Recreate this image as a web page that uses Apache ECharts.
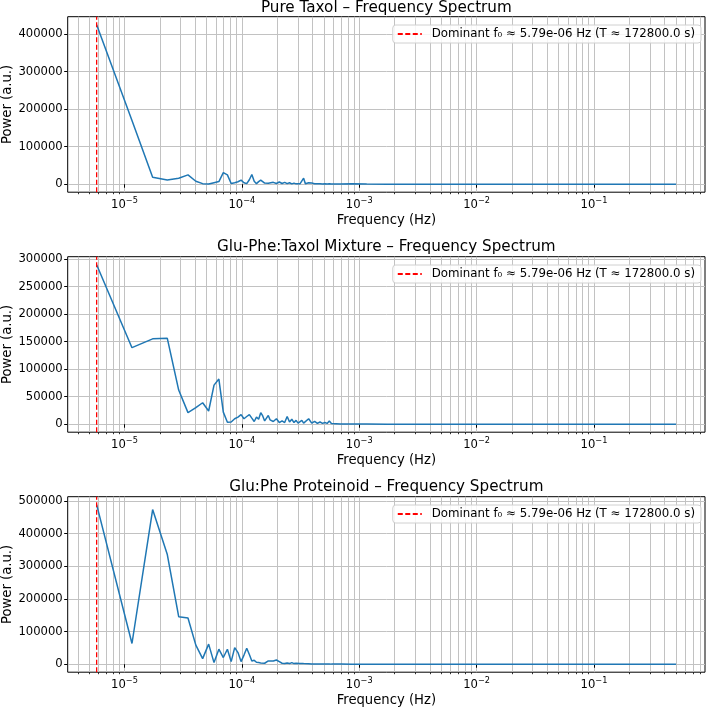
<!DOCTYPE html>
<html>
<head>
<meta charset="utf-8">
<script src="https://cdn.jsdelivr.net/npm/echarts@6/dist/echarts.min.js"></script>
<style>
  html, body { margin: 0; padding: 0; background: #fff; }
  #chart { width: 708px; height: 707px; }
</style>
</head>
<body>
<div id="chart"></div>
<script>
// record length in seconds: FFT bin k sits at k / samplePeriod Hz
const samplePeriod = 172800;
const dominantFreq = 1 / samplePeriod;

const bins = [
  1, 2, 3, 4, 5, 6, 7, 8, 9, 10, 11, 12, 13, 14, 15, 16, 17, 18, 19, 20,
  21, 22, 23, 24, 25, 26, 27, 28, 29, 30,
  32, 34, 36, 38, 40, 42, 44, 46, 48, 50, 52, 54, 56, 58, 60,
  64, 68, 72, 76, 80, 84, 88, 92, 96, 100, 104,
  120, 150, 200, 300, 500, 1000, 3000, 10000, 30000, 86400
];

const pureTaxol = [
  425000, 170000, 18700, 11500, 16000, 25000, 8000, 1500, 500, 4000,
  7000, 31000, 25000, 2000, 4000, 6500, 11000, 4000, 1500, 12000,
  26000, 8000, 1500, 7000, 11000, 9000, 3000, 1500, 2500, 1500,
  5000, 2000, 6000, 2000, 5000, 1500, 4000, 1000, 3000, 1000, 2500, 1000, 4000, 16000, 1500,
  4000, 3000, 1500, 1000, 1500, 800, 1000, 800, 1200, 600, 800,
  500, 1000, 400, 200, 100, 50, 20, 10, 5, 0
];

const mixture = [
  289700, 139000, 155000, 156000, 62000, 21000, 30000, 39000, 24000, 71000,
  82000, 22000, 3500, 4000, 10000, 13000, 17500, 10000, 14000, 17500,
  11000, 5000, 13000, 9000, 21000, 15000, 6000, 9000, 16000, 8000,
  5000, 10000, 3000, 6000, 3000, 14000, 4000, 9000, 3000, 7000, 2000, 5000, 7000, 2000, 4000,
  10000, 2000, 5000, 1500, 4000, 1500, 3000, 1500, 6000, 1500, 1000,
  500, 300, 200, 100, 50, 30, 10, 5, 2, 0
];

const proteinoid = [
  489000, 63500, 474000, 336000, 145700, 141700, 58500, 17200, 61600, 5000,
  46000, 20500, 46000, 8000, 51000, 35700, 8000, 28000, 49000, 30000,
  10000, 12000, 6000, 5000, 4000, 2000, 3000, 2000, 10000, 9000,
  10000, 13000, 8000, 3000, 2000, 4000, 2000, 5000, 2000, 3000, 1500, 2500, 1000, 2000, 1000,
  1500, 800, 1000, 600, 800, 500, 600, 400, 500, 300, 400,
  300, 200, 100, 60, 30, 20, 10, 5, 2, 0
];

const titles = [
  'Pure Taxol – Frequency Spectrum',
  'Glu-Phe:Taxol Mixture – Frequency Spectrum',
  'Glu:Phe Proteinoid – Frequency Spectrum'
];
const legendName = 'Dominant f₀ ≈ 5.79e-06 Hz (T ≈ 172800.0 s)';

const xMajorTicks = [1e-5, 1e-4, 1e-3, 1e-2, 1e-1];
const xMinorTicks = [
  4e-6, 5e-6, 6e-6, 7e-6, 8e-6, 9e-6,
  2e-5, 3e-5, 4e-5, 5e-5, 6e-5, 7e-5, 8e-5, 9e-5,
  2e-4, 3e-4, 4e-4, 5e-4, 6e-4, 7e-4, 8e-4, 9e-4,
  2e-3, 3e-3, 4e-3, 5e-3, 6e-3, 7e-3, 8e-3, 9e-3,
  2e-2, 3e-2, 4e-2, 5e-2, 6e-2, 7e-2, 8e-2, 9e-2,
  2e-1, 3e-1, 4e-1, 5e-1, 6e-1, 7e-1, 8e-1
];
const yTicks = [
  [0, 100000, 200000, 300000, 400000],
  [0, 50000, 100000, 150000, 200000, 250000, 300000],
  [0, 100000, 200000, 300000, 400000, 500000]
];
const yRanges = [[-21250, 446250], [-14485, 304185], [-24450, 513450]];
const xRange = [3.28e-6, 0.882];

const spectra = [pureTaxol, mixture, proteinoid];

const font = 'DejaVu Sans';
const gridTops = [16.7, 256.7, 496.7];
const gridHeight = 175.5;
const gridLeft = 67.7;
const gridRight = 3;
const titleY = [8, 247, 487];
const gridColor = '#c2c2c2';
const dash = [5, 2.5];

const chart = echarts.init(document.getElementById('chart'), null, { renderer: 'canvas' });

const grids = [];
const xAxes = [];
const yAxes = [];
const series = [];
const legends = [];
const graphics = [];

spectra.forEach((values, i) => {
  grids.push({
    left: gridLeft, right: gridRight, top: gridTops[i], height: gridHeight,
    outerBoundsMode: 'none', containLabel: false,
    show: true, borderColor: '#000', borderWidth: 1, backgroundColor: 'transparent'
  });

  // major ticks, labels and grid lines
  xAxes.push({
    type: 'log', gridIndex: i, min: xRange[0], max: xRange[1], position: 'bottom',
    name: 'Frequency (Hz)', nameLocation: 'middle', nameGap: 22, nameMoveOverlap: false,
    nameTextStyle: { fontFamily: font, fontSize: 13.2, color: '#000' },
    axisLine: { show: false },
    axisTick: { show: true, customValues: xMajorTicks, length: 3.5, lineStyle: { color: '#000', width: 1 } },
    axisLabel: {
      customValues: xMajorTicks, margin: 5,
      formatter: v => '{b|10}{s|−' + Math.abs(Math.round(Math.log10(v))) + '}',
      rich: {
        b: { fontFamily: font, fontSize: 11.6, color: '#000', lineHeight: 14, verticalAlign: 'bottom' },
        s: { fontFamily: font, fontSize: 8.2, color: '#000', lineHeight: 9, verticalAlign: 'top' }
      }
    },
    splitLine: { show: true, lineStyle: { color: gridColor, width: 1 } }
  });
  // minor ticks and grid lines
  xAxes.push({
    type: 'log', gridIndex: i, min: xRange[0], max: xRange[1], position: 'bottom',
    axisLine: { show: false },
    axisTick: { show: true, customValues: xMinorTicks, length: 2, lineStyle: { color: '#000', width: 0.8 } },
    axisLabel: { show: false },
    splitLine: { show: true, lineStyle: { color: gridColor, width: 1 } }
  });

  yAxes.push({
    type: 'value', gridIndex: i, min: yRanges[i][0], max: yRanges[i][1],
    name: 'Power (a.u.)', nameLocation: 'middle', nameGap: 54, nameMoveOverlap: false,
    nameTextStyle: { fontFamily: font, fontSize: 13.2, color: '#000' },
    axisLine: { show: false },
    axisTick: { show: true, customValues: yTicks[i], length: 3.5, lineStyle: { color: '#000', width: 1 } },
    axisLabel: {
      customValues: yTicks[i], margin: 5,
      fontFamily: font, fontSize: 11.6, color: '#000',
      formatter: v => String(v)
    },
    splitLine: { show: true, lineStyle: { color: gridColor, width: 1 } }
  });

  series.push({
    type: 'line', xAxisIndex: 2 * i, yAxisIndex: i,
    data: bins.map((k, j) => [k / samplePeriod, values[j]]),
    symbol: 'none', showSymbol: false,
    lineStyle: { color: '#1f77b4', width: 1.5 },
    z: 3
  });
  // vertical marker at the dominant frequency, spanning the whole y range
  series.push({
    type: 'line', name: legendName, xAxisIndex: 2 * i, yAxisIndex: i,
    data: [[dominantFreq, yRanges[i][0]], [dominantFreq, yRanges[i][1]]],
    symbol: 'none', showSymbol: false,
    itemStyle: { color: '#ff0000' },
    lineStyle: { color: '#ff0000', width: 1.3, type: dash },
    z: 4
  });

  legends.push({
    top: gridTops[i] + 8.3, right: 7,
    data: [legendName], selectedMode: false,
    itemWidth: 24, itemHeight: 10,
    itemStyle: { opacity: 0 },
    padding: [3, 6, 3, 4],
    backgroundColor: 'rgba(255,255,255,0.85)',
    borderColor: '#d0d0d0', borderWidth: 1, borderRadius: 3,
    textStyle: { fontFamily: font, fontSize: 11.8, color: '#000', padding: [0, 0, 0, 5] }
  });

  graphics.push({
    type: 'text', x: gridLeft + (708 - gridLeft - gridRight) / 2, y: titleY[i],
    style: {
      text: titles[i], font: '15.2px "DejaVu Sans"', fill: '#000',
      align: 'center', verticalAlign: 'middle',
      textAlign: 'center', textVerticalAlign: 'middle'
    }
  });
});

chart.setOption({
  animation: false,
  backgroundColor: '#fff',
  grid: grids,
  xAxis: xAxes,
  yAxis: yAxes,
  legend: legends,
  series: series,
  graphic: graphics
});
</script>
</body>
</html>
